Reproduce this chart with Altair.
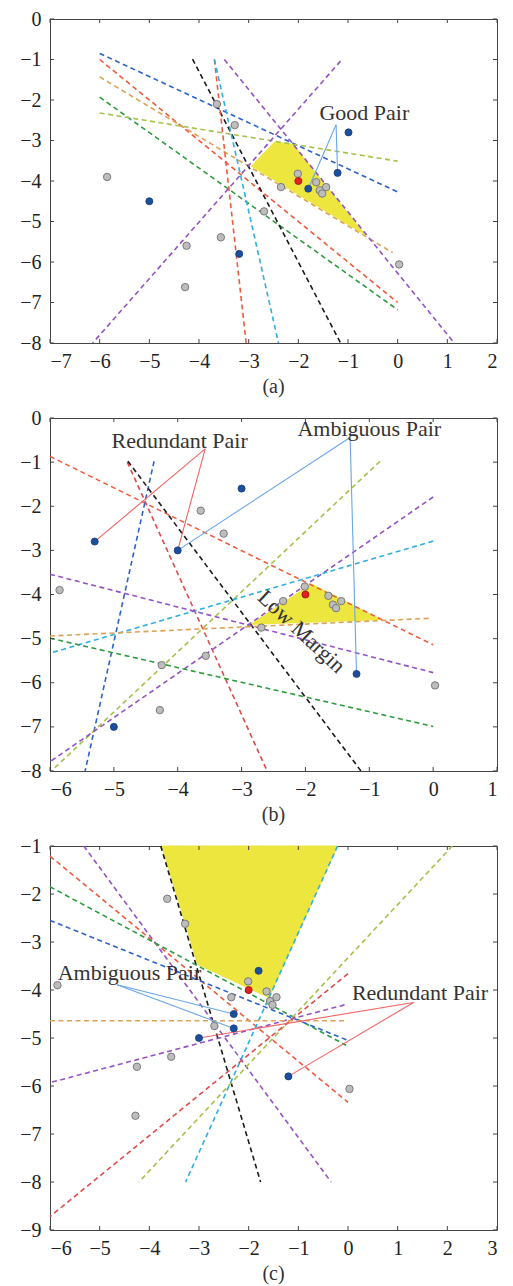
import altair as alt
import pandas as pd

FONT = "Liberation Serif"

# ---------------- shared sample points ----------------
GRAY_X = [-5.85, -3.64, -3.28, -2.01, -2.35, -1.64, -1.44, -1.57, -1.52, -2.69, -3.56, -4.25, -4.28, 0.03]
GRAY_Y = [-3.90, -2.10, -2.62, -3.82, -4.15, -4.03, -4.15, -4.23, -4.31, -4.75, -5.39, -5.60, -6.62, -6.06]
RED_X = [-2.0]
RED_Y = [-4.0]

# ---------------- panel (a) ----------------
A_BLUE_X = [-5.0, -0.99, -1.21, -1.80, -3.19]
A_BLUE_Y = [-4.5, -2.80, -3.80, -4.19, -5.80]
A_LINES = [  # name, x1, y1, x2, y2
    ("blue", -6.0, -0.85, 0.0, -4.27),
    ("redorange", -6.0, -1.00, 0.0, -7.00),
    ("orange", -6.0, -1.43, -0.1, -5.77),
    ("green", -6.0, -1.93, 0.0, -7.18),
    ("olive", -6.0, -2.32, 0.0, -3.51),
    ("black", -4.13, -0.99, -1.15, -8.0),
    ("redorange", -3.69, -1.00, -3.05, -8.0),
    ("cyan", -3.69, -1.00, -2.40, -8.0),
    ("purple", -1.15, -1.04, -6.14, -8.0),
    ("purple", -3.49, -1.00, 1.14, -8.0),
]
A_POLY_X = [-2.95, -2.48, -2.11, -0.64]
A_POLY_Y = [-3.64, -3.04, -3.09, -5.35]
A_LINKS = [  # kind, x1, y1, x2, y2
    ("blue", -1.24, -2.61, -1.80, -4.19),
    ("blue", -1.24, -2.61, -1.21, -3.80),
]
A_TEXTS = [("Good Pair", -0.67, -2.32, 0)]

# ---------------- panel (b) ----------------
B_BLUE_X = [-5.3, -4.0, -3.0, -5.0, -1.2]
B_BLUE_Y = [-2.8, -3.0, -1.6, -7.0, -5.8]
B_LINES = [
    ("redorange", -6.0, -0.87, 0.0, -5.14),
    ("blue", -4.37, -0.98, -5.45, -8.0),
    ("red", -4.79, -1.00, -2.60, -8.0),
    ("black", -4.78, -0.98, -1.13, -8.0),
    ("olive", -0.83, -0.98, -5.98, -8.0),
    ("purple", 0.0, -1.79, -6.0, -7.79),
    ("cyan", 0.0, -2.79, -6.0, -5.33),
    ("purple", -6.0, -3.54, 0.0, -5.77),
    ("orange", -6.0, -4.94, -0.06, -4.54),
    ("green", -6.0, -4.99, 0.0, -6.99),
]
B_POLY_X = [-2.87, -1.91, -0.80]
B_POLY_Y = [-4.69, -3.76, -4.58]
B_LINKS = [
    ("red", -3.57, -0.70, -5.30, -2.80),
    ("red", -3.57, -0.70, -4.00, -3.00),
    ("blue", -1.30, -0.44, -4.00, -3.00),
    ("blue", -1.30, -0.44, -1.20, -5.80),
]
B_TEXTS = [
    ("Redundant Pair", -3.97, -0.51, 0),
    ("Ambiguous Pair", -1.00, -0.25, 0),
    ("Low Margin", -2.06, -4.84, 43),
]

# ---------------- panel (c) ----------------
C_BLUE_X = [-1.8, -2.3, -2.3, -3.0, -1.2]
C_BLUE_Y = [-3.6, -4.5, -4.8, -5.0, -5.8]
C_LINES = [
    ("black", -3.77, -1.0, -1.76, -8.0),
    ("purple", -5.32, -1.0, -0.34, -8.0),
    ("redorange", -6.0, -1.21, 0.0, -6.34),
    ("green", -6.0, -1.85, -0.04, -5.15),
    ("blue", -6.0, -2.55, 0.0, -5.05),
    ("cyan", -0.21, -1.0, -3.27, -8.0),
    ("olive", 2.10, -1.0, -4.21, -8.0),
    ("red", 0.0, -3.66, -6.0, -8.72),
    ("purple", -0.07, -4.31, -6.0, -5.93),
    ("orange", -6.0, -4.64, -0.07, -4.64),
]
C_POLY_X = [-3.76, -0.21, -1.59, -3.04]
C_POLY_Y = [-1.00, -1.00, -4.16, -3.46]
C_LINKS = [
    ("blue", -4.65, -3.89, -2.30, -4.50),
    ("blue", -4.65, -3.89, -2.30, -4.80),
    ("red", 1.32, -4.26, -3.00, -5.00),
    ("red", 1.32, -4.26, -1.20, -5.80),
]
C_TEXTS = [
    ("Ambiguous Pair", -4.40, -3.64, 0),
    ("Redundant Pair", 1.45, -4.07, 0),
]

LINE_NAMES = ["blue", "redorange", "orange", "green", "olive", "black", "red", "cyan", "purple"]
LINE_COLORS = ["#2d62c9", "#f05a3c", "#dca255", "#2e9c3e", "#a3c24a", "#1a1a1a", "#e04a4a", "#2fb0e0", "#9452c4"]
LINK_NAMES = ["blue", "red"]
LINK_COLORS = ["#6aa6e6", "#f26464"]
YELLOW = "#ece63f"


def panel(caption, xdom, ydom, xticks, yticks, W, H,
          lines, poly_x, poly_y, blue_x, blue_y, links, texts):
    xs = alt.Scale(domain=xdom, nice=False, zero=False)
    ys = alt.Scale(domain=ydom, nice=False, zero=False)
    xa = alt.Axis(values=xticks, title="", labelPadding=8, ticks=False, domain=False,
                  grid=False, labelFont=FONT, labelFontSize=20, labelColor="#222222")
    ya = alt.Axis(values=yticks, title="", labelPadding=9, ticks=False, domain=False,
                  grid=False, labelFont=FONT, labelFontSize=20, labelColor="#222222")

    def X(f):
        return alt.X(f, scale=xs, axis=xa)

    def Y(f):
        return alt.Y(f, scale=ys, axis=ya)

    poly_df = pd.DataFrame({"x": poly_x, "y": poly_y, "o": list(range(len(poly_x)))})
    poly = alt.Chart(poly_df).mark_line(fill=YELLOW, stroke=YELLOW, strokeWidth=1).encode(
        x=X("x:Q"), y=Y("y:Q"), order=alt.Order("o:Q"),
    )

    ldf = pd.DataFrame(lines, columns=["c", "x1", "y1", "x2", "y2"])
    dashed = alt.Chart(ldf).mark_rule(strokeDash=[5, 3.5], strokeWidth=1.6).encode(
        x=X("x1:Q"), y=Y("y1:Q"), x2="x2:Q", y2="y2:Q",
        color=alt.Color("c:N", scale=alt.Scale(domain=LINE_NAMES, range=LINE_COLORS), legend=None),
    )

    kdf = pd.DataFrame(links, columns=["k", "x1", "y1", "x2", "y2"])
    linkl = alt.Chart(kdf).mark_rule(strokeWidth=1.1).encode(
        x=X("x1:Q"), y=Y("y1:Q"), x2="x2:Q", y2="y2:Q",
        stroke=alt.Stroke("k:N", scale=alt.Scale(domain=LINK_NAMES, range=LINK_COLORS), legend=None),
    )

    gray = alt.Chart(pd.DataFrame({"x": GRAY_X, "y": GRAY_Y})).mark_circle(
        color="#bdbdbd", stroke="#7a7a7a", strokeWidth=1, size=55, opacity=1).encode(
        x=X("x:Q"), y=Y("y:Q"))
    blue = alt.Chart(pd.DataFrame({"x": blue_x, "y": blue_y})).mark_circle(
        color="#1d4e9e", stroke="#163c7a", strokeWidth=0.8, size=50, opacity=1).encode(
        x=X("x:Q"), y=Y("y:Q"))
    red = alt.Chart(pd.DataFrame({"x": RED_X, "y": RED_Y})).mark_circle(
        color="#e3201c", stroke="#9a1010", strokeWidth=0.8, size=50, opacity=1).encode(
        x=X("x:Q"), y=Y("y:Q"))

    tdf = pd.DataFrame(texts, columns=["t", "x", "y", "a"])
    txt = alt.Chart(tdf).mark_text(font=FONT, fontSize=22, color="#333333").encode(
        x=X("x:Q"), y=Y("y:Q"), text="t:N", angle=alt.Angle("a:Q", scale=None))

    xt = pd.DataFrame({"x": xticks})
    yt = pd.DataFrame({"y": yticks})
    tk = dict(color="#444444", strokeWidth=1)
    tb = alt.Chart(xt).mark_rule(**tk).encode(x=X("x:Q"), y=alt.value(H), y2=alt.value(H - 4))
    tt = alt.Chart(xt).mark_rule(**tk).encode(x=X("x:Q"), y=alt.value(0), y2=alt.value(4))
    tl = alt.Chart(yt).mark_rule(**tk).encode(y=Y("y:Q"), x=alt.value(0), x2=alt.value(4))
    tr = alt.Chart(yt).mark_rule(**tk).encode(y=Y("y:Q"), x=alt.value(W - 4), x2=alt.value(W))

    return alt.layer(poly, dashed, linkl, gray, blue, red, txt, tb, tt, tl, tr).properties(
        width=W, height=H,
        title=alt.TitleParams(caption, orient="bottom", font=FONT, fontSize=20,
                              fontWeight="normal", color="#333333", offset=6),
    )


pa = panel("(a)", [-7, 2], [-8, 0], list(range(-7, 3)), list(range(-8, 1)), 447, 324,
           A_LINES, A_POLY_X, A_POLY_Y, A_BLUE_X, A_BLUE_Y, A_LINKS, A_TEXTS)
pb = panel("(b)", [-6, 1], [-8, 0], list(range(-6, 2)), list(range(-8, 1)), 447, 353,
           B_LINES, B_POLY_X, B_POLY_Y, B_BLUE_X, B_BLUE_Y, B_LINKS, B_TEXTS)
pc = panel("(c)", [-6, 3], [-9, -1], list(range(-6, 4)), list(range(-9, 0)), 447, 384,
           C_LINES, C_POLY_X, C_POLY_Y, C_BLUE_X, C_BLUE_Y, C_LINKS, C_TEXTS)

chart = alt.vconcat(pa, pb, pc, spacing=9).properties(
    padding={"left": 11, "top": 0, "right": 5, "bottom": 0}
).configure_view(stroke="#444444", strokeWidth=1)

chart.save("out.html", embed_options={"renderer": "svg", "actions": False})
